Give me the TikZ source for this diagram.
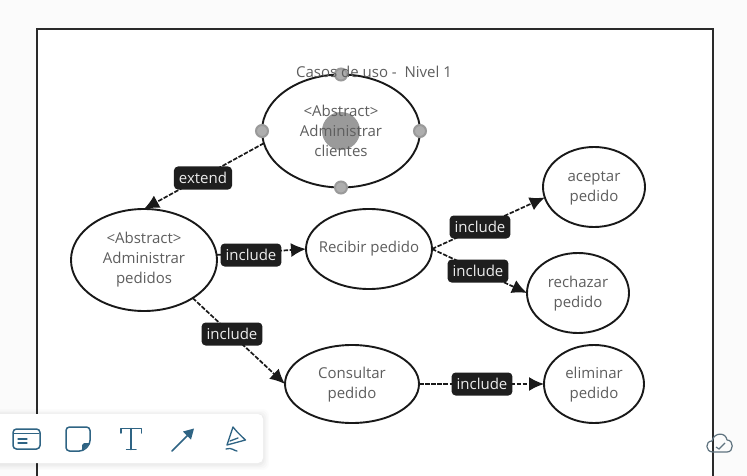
\documentclass[tikz,border=0pt]{standalone}
\usepackage{fontspec}
\setmainfont{Open Sans}
\usetikzlibrary{shapes.geometric,arrows.meta}
\definecolor{pagebg}{HTML}{FBFBFB}
\definecolor{txtgrey}{HTML}{5E5E5E}
\definecolor{framecol}{HTML}{2A2A2A}
\definecolor{iconblue}{HTML}{2F6484}
\definecolor{tagbg}{HTML}{1E1E1E}
\definecolor{handlecol}{HTML}{9A9A9A}
\tikzset{
  usecase/.style={ellipse,draw=black!90,line width=1.9pt,fill=white,inner sep=-25pt,outer sep=0pt,
    text=txtgrey,align=center,font=\fontsize{15}{20}\selectfont},
  tag/.style={fill=tagbg,text=white!92!black,rounded corners=4pt,inner xsep=5pt,inner ysep=0pt,
    minimum height=23pt,font=\fontsize{15}{16}\selectfont},
  rel/.style={draw=black!90,line width=1.7pt,dash pattern=on 4.5pt off 1.6pt,
    -{Latex[length=15pt,width=14pt]}},
  handle/.style={circle,fill=handlecol!80!white,draw=handlecol,line width=2pt,minimum size=12pt,inner sep=0pt},
  icon/.style={draw=iconblue,line width=1.5pt,line join=round,line cap=round},
}
\begin{document}
\begin{tikzpicture}[x=1pt,y=-1pt]
\useasboundingbox (0,0) rectangle (747,476);
\fill[pagebg] (0,0) rectangle (747,476);
% board
\fill[white] (37,29) rectangle (713,476);
\draw[framecol,line width=1.8pt] (37,476) -- (37,29) -- (713,29) -- (713,476);

% use cases
\node[usecase,minimum width=158pt,minimum height=113pt] (clientes) at (341,131) {};
\node[usecase,minimum width=146pt,minimum height=102pt] (pedidos) at (144,260) {\textless Abstract\textgreater\\Administrar\\pedidos};
\node[usecase,minimum width=126pt,minimum height=80pt] (recibir) at (369,249) {Recibir pedido};
\node[usecase,minimum width=134pt,minimum height=78pt] (consultar) at (352,384) {\rule{0pt}{13pt}Consultar\\pedido};
\node[usecase,minimum width=102pt,minimum height=80pt] (aceptar) at (594,187) {\rule{0pt}{13pt}aceptar\\pedido};
\node[usecase,minimum width=102pt,minimum height=80pt] (rechazar) at (578,293) {\rule{0pt}{13pt}rechazar\\pedido};
\node[usecase,minimum width=100pt,minimum height=78pt] (eliminar) at (594,384) {\rule{0pt}{13pt}eliminar\\pedido};

% connectors
\draw[rel] (clientes.189) -- (pedidos.90);
\draw[rel] (pedidos.4) -- (recibir.180);
\draw[rel] (pedidos.-38) -- (consultar.180);
\draw[rel] (recibir.0) -- (aceptar.192);
\draw[rel] (recibir.0) -- (rechazar.180);
\draw[rel] (consultar.0) -- (eliminar.180);

% connector labels
\node[tag] (t1) at (203,178) {extend};
\node[tag] (t2) at (251,255) {include};
\node[tag] (t3) at (232,334) {include};
\node[tag] (t4) at (480,227) {include};
\node[tag] (t5) at (478,271) {include};
\node[tag] (t6) at (482,384) {include};

% selection handles and pointer
\node[handle] (h1) at (clientes.north) {};
\node[handle] (h2) at (clientes.south) {};
\node[handle] (h3) at (clientes.west) {};
\node[handle] (h4) at (clientes.east) {};
\node[circle,fill=handlecol,minimum size=38pt,inner sep=0pt] (pointer) at (341,131) {};

% texts on top
\node[text=txtgrey,align=center,font=\fontsize{15}{20}\selectfont] (clientestxt) at (341,131) {\textless Abstract\textgreater\\Administrar\\clientes};
\node[text=txtgrey,font=\fontsize{15}{16}\selectfont] (title) at (374,72) {Casos de uso -\ \ Nivel 1};

% toolbar
\foreach \s/\o in {6/0.012,4.5/0.015,3/0.02,1.5/0.025}{
  \fill[black,opacity=\o,rounded corners=6pt] (-8,414-\s+1) rectangle (263+\s,463+\s+1);
}
\fill[white,rounded corners=5pt] (-5,414) rectangle (263,463);
% card icon
\draw[icon,rounded corners=3.5pt] (13,429) rectangle (40,449);
\draw[icon,line width=1.3pt] (14,433.5) -- (39,433.5);
\draw[icon,line width=1.3pt] (18,439) -- (27,439) (18,443) -- (27,443);
% note icon
\draw[icon,rounded corners=3.5pt] (66,427) -- (90,427) -- (90,444) -- (83,451) -- (66,451) -- cycle;
\fill[iconblue] (90,443) -- (82,451) -- (82,445) -- (84,443) -- cycle;
% T icon
\draw[icon] (121,433) -- (121,428.5) -- (141.5,428.5) -- (141.5,433);
\draw[icon] (131,428.5) -- (131,449.5) (126.5,449.5) -- (136,449.5);
% arrow icon
\draw[icon] (172,451) -- (189,434);
\fill[iconblue] (194,428.5) -- (183,431.5) -- (191,439.5) -- cycle;
% pen icon
\draw[icon,line width=1.3pt] (233,427) .. controls (238,433) .. (245.5,440) -- (227,445) -- cycle;
\draw[icon,line width=1.3pt] (230,441) -- (238,438) (226,449) .. controls (232,447) and (234,451) .. (237,451);

% cloud status icon
\draw[draw=black!45!iconblue!70,line width=1.2pt,line join=round] (713,452) .. controls (705,452) and (705,441) .. (712,441)
  .. controls (714,432) and (726,432) .. (727,440) .. controls (734,440) and (734,452) .. (727,452) -- cycle;
\draw[draw=black!45!iconblue!70,line width=1.2pt] (716,447) -- (719,449) -- (725,443);
\end{tikzpicture}
\end{document}
